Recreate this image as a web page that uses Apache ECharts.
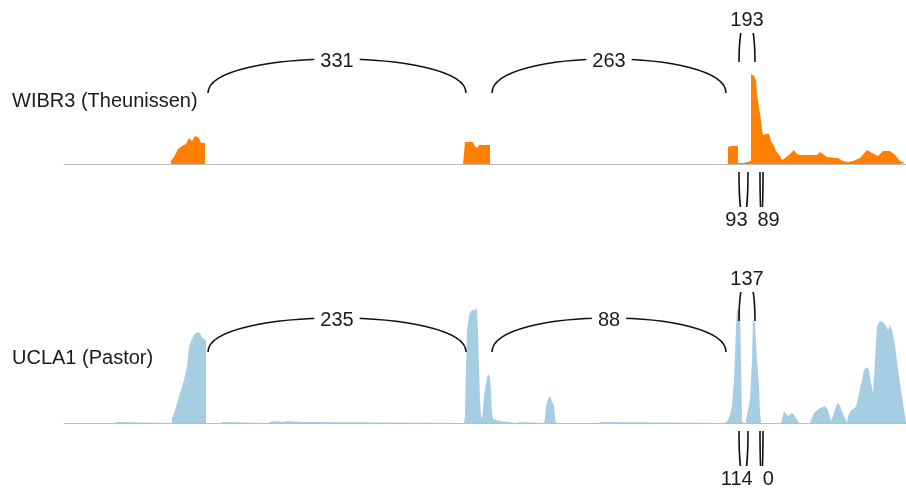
<!DOCTYPE html>
<html>
<head>
<meta charset="utf-8">
<script src="https://cdn.jsdelivr.net/npm/echarts@6/dist/echarts.min.js"></script>
<style>
  html, body { margin: 0; padding: 0; background: #fff; }
  #chart { width: 906px; height: 488px; }
</style>
</head>
<body>
<div id="chart"></div>
<script>
// Sample labels, one per track
const sampleNames = ['WIBR3 (Theunissen)', 'UCLA1 (Pastor)'];

// Read depth along the locus: [relative position, depth]
const wibr3Coverage = [
  [107,0],[107,3],[108,5],[110,7],[111,9],[112,11],[114,15],[115,16],[118,18],[122,20],
  [124,22],[125,26],[127,25],[128,23],[130,24],[131,28],[133,28],[135,26],[137,21],[141,21],[141,0],
  [399,0],[399,1],[401,1],[401,22],[409,22],[410,19],[413,16],[415,19],[419,19],[420,18],[421,19],[426,19],[426,0],
  [664,0],[664,17],[667,18],[674,18],[674,1],[680,1],[683,2],[685,3],[687,3],[687,90],[689,90],[690,88],
  [692,84],[693,69],[695,57],[697,44],[698,34],[699,29],[700,28],[702,30],[705,30],[706,28],[707,23],
  [710,18],[712,13],[714,11],[716,8],[718,4],[721,6],[726,10],[730,14],[733,10],[736,9],[743,9],
  [753,9],[756,12],[759,10],[763,7],[774,6],[779,3],[784,2],[789,3],[796,6],[803,14],[808,11],
  [814,8],[819,13],[826,13],[831,9],[836,3],[841,1],[842,0]
];

const ucla1Coverage = [
  [49,0],[49,1],[54,1],[54,0],
  [108,0],[108,4],[111,13],[114,23],[117,33],[120,43],[123,57],[125,75],[127,82],[130,88],
  [133,91],[136,90],[138,85],[140,83],[142,83],[142,0],
  [156,0],[156,1],[159,1],[159,0],
  [203,0],[203,2],[210,2],[219,1],[223,2],[238,1],[243,1],[246,1],[246,0],
  [400,0],[401,7],[402,57],[403,92],[405,108],[407,112],[409,114],[413,114],[414,91],[415,57],
  [416,24],[417,7],[418,4],[419,14],[420,27],[422,40],[424,49],[426,46],[427,31],[428,11],
  [429,4],[431,3],[436,2],[438,0],
  [452,0],[452,1],[456,1],[456,0],
  [480,0],[481,4],[482,17],[484,24],[486,27],[488,29],[490,17],[491,6],[492,0],
  [534,0],[534,1],[538,1],[538,0],
  [661,0],[661,1],[664,3],[666,8],[668,17],[670,43],[671,67],[672,97],[673,113],[674,115],
  [676,113],[677,63],[678,3],[679,0],[682,0],[682,3],[684,13],[686,23],[688,63],[689,103],
  [690,104],[691,100],[693,63],[695,37],[696,10],[697,0],
  [717,0],[720,12],[722,13],[724,7],[726,7],[728,10],[731,7],[735,0],
  [746,0],[750,10],[756,15],[761,17],[764,13],[767,2],[769,7],[772,17],[774,20],[776,17],
  [780,7],[783,0],[784,7],[787,13],[791,15],[793,20],[795,30],[798,43],[800,53],[803,56],
  [805,53],[807,40],[809,30],[811,63],[813,97],[816,102],[818,104],[820,100],[822,97],
  [824,93],[826,98],[828,93],[830,83],[832,70],[834,53],[836,40],[838,27],[840,13],[842,0]
];

// Splice junctions shared by both samples; side 1 = drawn above, -1 = below
const junctionStart = [144, 428, 675, 675, 696];
const junctionEnd   = [402, 662, 691, 684, 699];
const junctionSide  = [1, 1, 1, -1, -1];
const wibr3Junctions = [331, 263, 193, 93, 89];
const ucla1Junctions = [235, 88, 137, 114, 0];

const trackColors = ['#FF7F00', '#A6CEE3'];
const FONT = '20px "Liberation Sans", Arial, Helvetica, sans-serif';
const LABEL_PAD = 6;

const measureCtx = document.createElement('canvas').getContext('2d');
measureCtx.font = FONT;
function labelWidth(text) {
  return measureCtx.measureText(text).width + 2 * LABEL_PAD;
}

function junctionData(counts) {
  return junctionStart.map((s, i) => [s, junctionEnd[i], counts[i], junctionSide[i]]);
}

// Horizontal label centres for one track; labels on the same side are pushed apart when they collide
function labelCentres(api, counts) {
  const items = junctionStart.map((s, i) => {
    const a = api.coord([s, 0])[0];
    const b = api.coord([junctionEnd[i], 0])[0];
    return { i, side: junctionSide[i], x: (a + b) / 2, w: labelWidth(String(counts[i])) };
  });
  for (let pass = 0; pass < 20; pass++) {
    let moved = false;
    for (let p = 0; p < items.length; p++) {
      for (let q = p + 1; q < items.length; q++) {
        const A = items[p], B = items[q];
        if (A.side !== B.side) continue;
        const need = (A.w + B.w) / 2 - 2;
        const d = B.x - A.x;
        if (Math.abs(d) < need) {
          const push = (need - Math.abs(d)) / 2;
          const dir = d >= 0 ? 1 : -1;
          A.x -= dir * push;
          B.x += dir * push;
          moved = true;
        }
      }
    }
    if (!moved) break;
  }
  const out = [];
  items.forEach(it => { out[it.i] = it.x; });
  return out;
}

// Sashimi arc: cubic curve between junction ends with the read count at its apex
function makeArcRenderer(counts) {
  return function (params, api) {
    const x1 = api.value(0), x2 = api.value(1);
    const count = api.value(2), side = api.value(3);
    const p1 = api.coord([x1, 0]);
    const p2 = api.coord([x2, 0]);
    const narrow = (x2 - x1) < 40;
    let base, rise;
    if (side > 0) {
      base = narrow ? 102 : 71;
      rise = narrow ? 44 : 34;
    } else {
      base = 8;
      rise = 46;
    }
    const y0 = p1[1] - side * base;
    const apex = y0 - side * rise;
    const cy = y0 - side * rise / 0.75;
    const lx = labelCentres(api, counts)[params.dataIndex];
    return {
      type: 'group',
      children: [
        {
          type: 'bezierCurve',
          shape: { x1: p1[0], y1: y0, x2: p2[0], y2: y0, cpx1: p1[0], cpy1: cy, cpx2: p2[0], cpy2: cy },
          style: { stroke: '#111', lineWidth: 1.6, fill: null }
        },
        {
          type: 'text',
          x: lx,
          y: apex + 2,
          z2: 10,
          style: {
            text: String(count),
            font: FONT,
            fill: '#1a1a1a',
            align: 'center',
            verticalAlign: 'middle',
            backgroundColor: '#fff',
            padding: [3, LABEL_PAD]
          }
        }
      ]
    };
  };
}

const chart = echarts.init(document.getElementById('chart'), null, { renderer: 'canvas' });

const grids = [
  { left: 64, right: 0, top: 14, height: 210 },
  { left: 64, right: 0, top: 273, height: 210 }
];

const xAxes = grids.map((g, i) => ({
  type: 'value', gridIndex: i, min: 0, max: 842,
  axisLine: { show: true, onZero: true, lineStyle: { color: '#bdbdbd', width: 1 } },
  axisTick: { show: false }, axisLabel: { show: false }, splitLine: { show: false }
}));
const yAxes = grids.map((g, i) => ({
  type: 'value', gridIndex: i, min: -60, max: 150, show: false,
  splitLine: { show: false }
}));

const coverage = [wibr3Coverage, ucla1Coverage];
const junctionCounts = [wibr3Junctions, ucla1Junctions];

const series = [];
coverage.forEach((cov, i) => {
  series.push({
    type: 'line', xAxisIndex: i, yAxisIndex: i, data: cov,
    showSymbol: false, silent: true,
    lineStyle: { width: 0 },
    areaStyle: { color: trackColors[i], opacity: 1 },
    z: 3
  });
  series.push({
    type: 'custom', xAxisIndex: i, yAxisIndex: i,
    data: junctionData(junctionCounts[i]),
    renderItem: makeArcRenderer(junctionCounts[i]), clip: false, silent: true, z: 5
  });
});

chart.setOption({
  animation: false,
  backgroundColor: '#fff',
  grid: grids,
  xAxis: xAxes,
  yAxis: yAxes,
  series: series,
  graphic: [
    { type: 'text', x: 12, y: 101, style: { text: sampleNames[0], font: FONT, fill: '#1a1a1a', verticalAlign: 'middle' } },
    { type: 'text', x: 12, y: 358, style: { text: sampleNames[1], font: FONT, fill: '#1a1a1a', verticalAlign: 'middle' } }
  ]
});
</script>
</body>
</html>
